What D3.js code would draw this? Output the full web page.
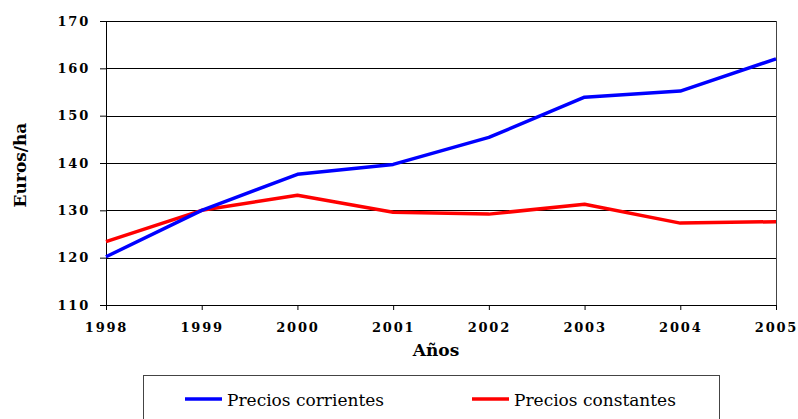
<!DOCTYPE html>
<html>
<head>
<meta charset="utf-8">
<script src="https://cdn.jsdelivr.net/npm/d3@7"></script>
<style>
	body { margin: 0; background: #fff; }
</style>
</head>
<body>
<div id="chart"></div>
<script>
var years = [1998, 1999, 2000, 2001, 2002, 2003, 2004, 2005];
var corrientes = [120.2, 130.0, 137.6, 139.7, 145.4, 153.9, 155.2, 162.0];
var constantes = [123.4, 130.0, 133.2, 129.6, 129.2, 131.3, 127.3, 127.6];
var yTicks = [110, 120, 130, 140, 150, 160, 170];
var seriesNames = ["Precios corrientes", "Precios constantes"];
var seriesColors = ["#0000ff", "#ff0000"];

var FONT = "'DejaVu Serif', 'Liberation Serif', serif";

var margin = {top: 21, right: 22, bottom: 114, left: 106};
var width = 798 - margin.left - margin.right;
var height = 419 - margin.top - margin.bottom;

var svg = d3.select("#chart").append("svg")
	.attr("width", 798)
	.attr("height", 419)
	.style("font-family", FONT);

var g = svg.append("g")
	.attr("transform", "translate(" + margin.left + "," + margin.top + ")");

var x = d3.scaleLinear().domain([1998, 2005]).range([0, width]);
var y = d3.scaleLinear().domain([110, 170]).range([height, 0]);

// grid lines
g.append("g")
	.selectAll("line")
	.data(yTicks.slice(1))
	.enter()
	.append("line")
	.attr("x1", 0)
	.attr("x2", width)
	.attr("y1", function(d) { return Math.round(y(d)) + 0.5; })
	.attr("y2", function(d) { return Math.round(y(d)) + 0.5; })
	.attr("stroke", "#000");

// right border
g.append("line")
	.attr("x1", width + 0.5).attr("x2", width + 0.5)
	.attr("y1", 0).attr("y2", height)
	.attr("stroke", "#444");

function styleAxis(sel) {
	sel.attr("font-family", FONT);
	sel.selectAll("text")
		.style("font-family", FONT)
		.style("font-size", "13px")
		.style("font-weight", "bold")
		.style("letter-spacing", "1.8px")
		.attr("fill", "#000");
}

// y axis
g.append("g")
	.call(d3.axisLeft(y).tickValues(yTicks).tickSize(6).tickSizeOuter(0).tickPadding(10))
	.call(styleAxis);

// x axis
g.append("g")
	.attr("transform", "translate(0," + height + ")")
	.call(d3.axisBottom(x).tickValues(years).tickFormat(d3.format("d")).tickSize(5).tickSizeOuter(0).tickPadding(13))
	.call(styleAxis);

// lines
var line = d3.line()
	.x(function(d, i) { return x(years[i]); })
	.y(function(d) { return y(d); });

[constantes, corrientes].forEach(function(data, k) {
	g.append("path")
		.datum(data)
		.attr("fill", "none")
		.attr("stroke", k === 0 ? seriesColors[1] : seriesColors[0])
		.attr("stroke-width", 3.5)
		.attr("stroke-linejoin", "round")
		.attr("d", line);
});

// axis titles
svg.append("text")
	.attr("x", 436)
	.attr("y", 356)
	.attr("text-anchor", "middle")
	.style("font-family", FONT)
	.style("font-size", "17px")
	.style("font-weight", "bold")
	.text("Años");

svg.append("text")
	.attr("text-anchor", "middle")
	.attr("transform", "translate(26,165)rotate(-90)")
	.style("font-family", FONT)
	.style("font-size", "17px")
	.style("font-weight", "bold")
	.text("Euros/ha");

// legend
var legend = svg.append("g");
legend.append("rect")
	.attr("x", 143.5)
	.attr("y", 375.5)
	.attr("width", 576)
	.attr("height", 60)
	.attr("fill", "#fff")
	.attr("stroke", "#444");

var legendX = [185, 472];
seriesNames.forEach(function(name, i) {
	legend.append("line")
		.attr("x1", legendX[i]).attr("x2", legendX[i] + 37)
		.attr("y1", 399).attr("y2", 399)
		.attr("stroke", seriesColors[i])
		.attr("stroke-width", 3.5);
	legend.append("text")
		.attr("x", legendX[i] + 42)
		.attr("y", 406)
		.style("font-family", FONT)
		.style("font-size", "17px")
		.text(name);
});
</script>
</body>
</html>
